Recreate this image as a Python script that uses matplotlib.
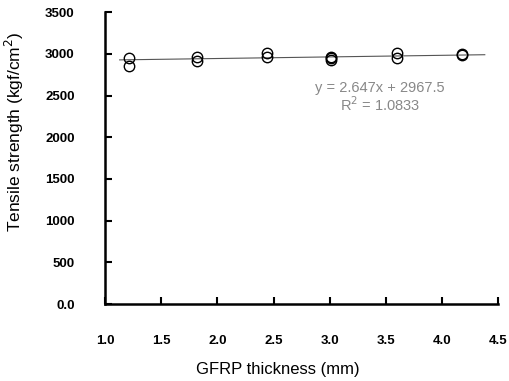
import matplotlib.pyplot as plt

# datos
thickness = [1.21, 1.21, 1.82, 1.82, 2.44, 2.44, 3.01, 3.01, 3.01, 3.60, 3.60, 4.18, 4.18]
strength = [2948, 2850, 2968, 2916, 3008, 2968, 2968, 2928, 2950, 3008, 2956, 2996, 2984]

fit_x = [1.13, 4.38]
fit_y = [2928, 2990]

xticks = [1.0, 1.5, 2.0, 2.5, 3.0, 3.5, 4.0, 4.5]
yticks = [0, 500, 1000, 1500, 2000, 2500, 3000, 3500]
ytick_labels = ['0.0', '500', '1000', '1500', '2000', '2500', '3000', '3500']

plt.rcParams['font.family'] = ['Liberation Sans', 'DejaVu Sans']

fig = plt.figure(figsize=(5.1, 3.81), dpi=100)
ax = fig.add_axes([0.206, 0.202, 0.771, 0.766])

ax.plot(fit_x, fit_y, color='#555555', linewidth=0.8, zorder=1)
ax.plot(thickness, strength, linestyle='none', marker='o', markersize=7.5,
        markerfacecolor='none', markeredgecolor='black', markeredgewidth=1.0, zorder=2)

ax.text(3.45, 2480, 'y = 2.647x + 2967.5\nR$^2$ = 1.0833', ha='center', va='center',
        fontsize=10.5, color='#888888', linespacing=1.05)

ax.set_xlim(1.0, 4.5)
ax.set_ylim(0, 3500)
ax.set_xticks(xticks)
ax.set_xticklabels([f'{v:.1f}' for v in xticks])
ax.set_yticks(yticks)
ax.set_yticklabels(ytick_labels)

ax.spines['top'].set_visible(False)
ax.spines['right'].set_visible(False)
ax.spines['left'].set_linewidth(1.8)
ax.spines['bottom'].set_linewidth(1.8)
ax.tick_params(direction='in', length=5, width=1.5, labelsize=9.5, pad=22)
for lab in ax.get_xticklabels() + ax.get_yticklabels():
    lab.set_fontweight('bold')

ax.set_xlabel('GFRP thickness (mm)', fontsize=12)
ax.xaxis.set_label_coords(0.44, -0.2)
ax.set_ylabel('Tensile strength (kgf/cm$^2$)', fontsize=12.5)
ax.yaxis.set_label_coords(-0.2, 0.59)

fig.savefig('out.png', dpi=100)
